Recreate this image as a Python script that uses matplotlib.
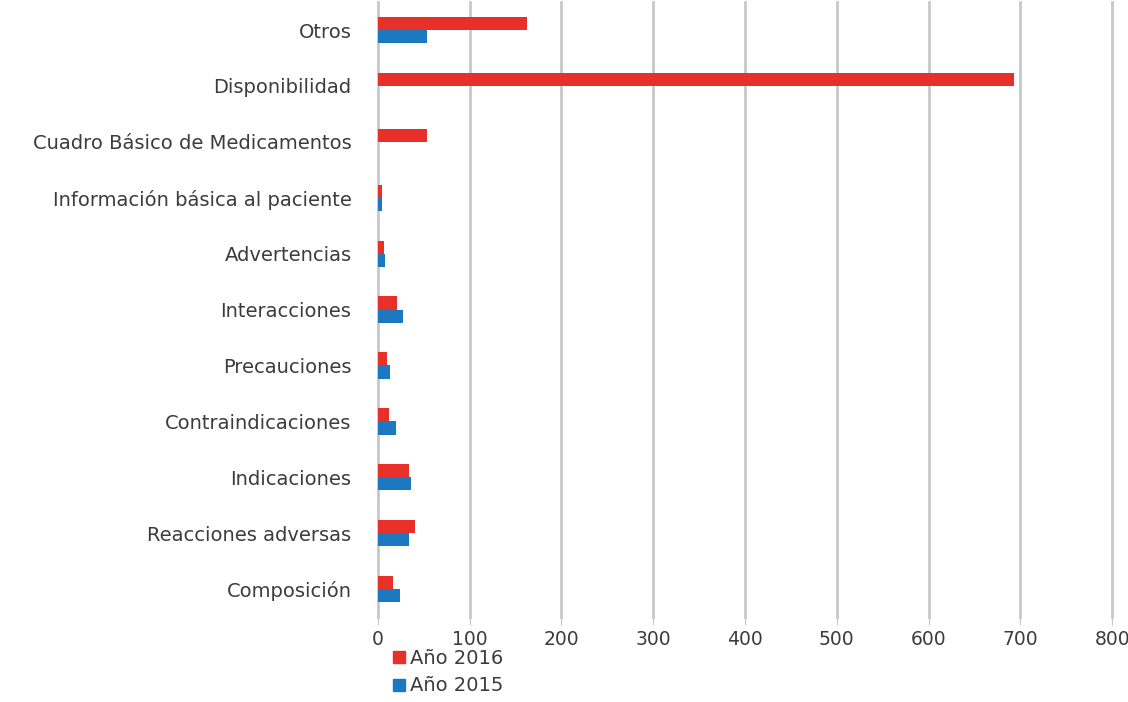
import matplotlib
matplotlib.use("Agg")
import matplotlib.pyplot as plt
import numpy as np
from matplotlib.lines import Line2D

categories = ["Otros", "Disponibilidad", "Cuadro Básico de Medicamentos",
              "Información básica al paciente", "Advertencias", "Interacciones",
              "Precauciones", "Contraindicaciones", "Indicaciones",
              "Reacciones adversas", "Composición"]
vals_2016 = [163, 693, 54, 4, 7, 21, 10, 12, 34, 40, 17]
vals_2015 = [54, 0, 0, 5, 8, 27, 13, 20, 36, 34, 24]
xticks = [0, 100, 200, 300, 400, 500, 600, 700, 800]

plt.rcParams['font.family'] = ['DejaVu Sans']

fig = plt.figure(figsize=(11.28, 7.02), dpi=100)
ax = fig.add_axes([0.335, 0.121, 0.651, 0.876])

red = "#E8302A"
blue = "#1C78C0"
txt = "#3C3C3C"
y = np.arange(len(categories))
h = 0.235
ax.barh(y - h/2, vals_2016, height=h, color=red, zorder=3)
ax.barh(y + h/2, vals_2015, height=h, color=blue, zorder=3)

ax.set_xlim(0, 800)
ax.set_ylim(len(categories) - 0.5, -0.5)
ax.set_xticks(xticks)
ax.set_xticklabels([str(t) for t in xticks])
ax.set_yticks(y)
ax.set_yticklabels(categories)
ax.grid(axis='x', color="#C8C8C8", linewidth=2, zorder=0)
for gl in ax.get_xgridlines():
    gl.set_clip_on(False)
for s in ax.spines.values():
    s.set_visible(False)
ax.tick_params(axis='y', length=0, pad=19, labelsize=14, labelcolor=txt)
ax.tick_params(axis='x', length=6, color="#C8C8C8", pad=3, labelsize=13.5, labelcolor=txt)

handles = [Line2D([], [], marker='s', linestyle='', color=red, markersize=8),
           Line2D([], [], marker='s', linestyle='', color=blue, markersize=8)]
fig.legend(handles, ["Año 2016", "Año 2015"], loc='upper left',
           bbox_to_anchor=(0.338, 0.087), frameon=False, fontsize=14,
           handletextpad=0.1, labelspacing=0.45, borderaxespad=0,
           labelcolor=txt, handlelength=1.0)

fig.savefig("out.png", dpi=100, facecolor="white")
